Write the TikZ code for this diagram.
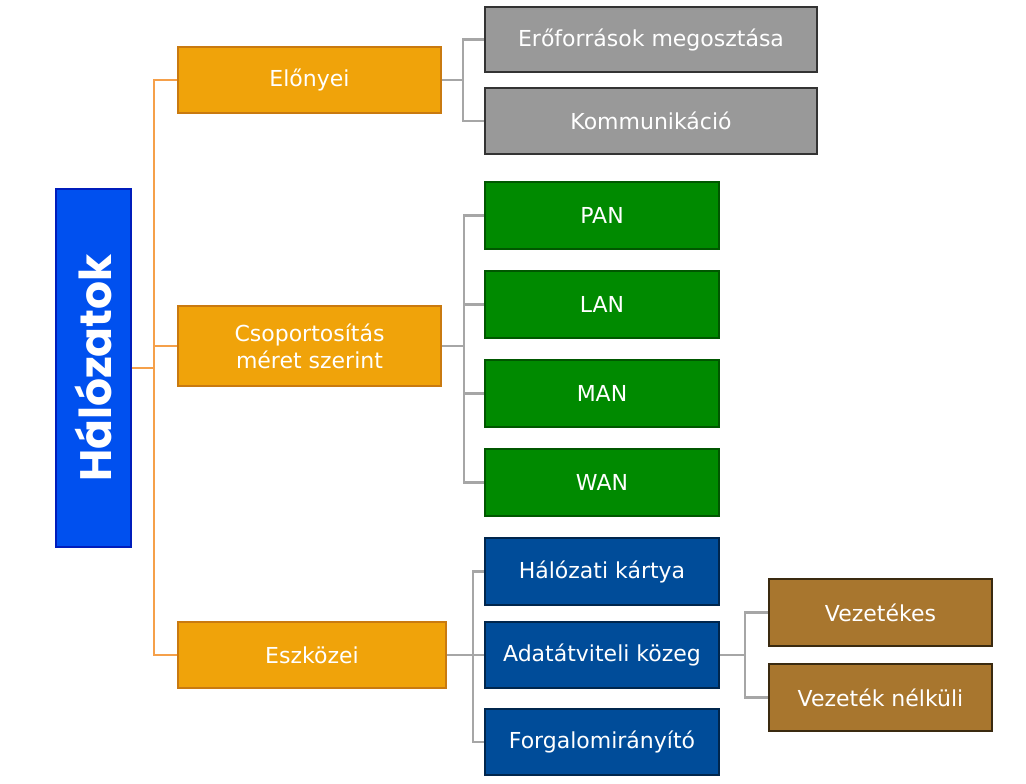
\documentclass[tikz,border=0pt]{standalone}
\usepackage{fontspec}
\setmainfont{DejaVu Sans}
\newfontfamily\rootfont{Poppins}
\definecolor{rootfill}{HTML}{0050EF}
\definecolor{rootdraw}{HTML}{001DBC}
\definecolor{orfill}{HTML}{F0A30A}
\definecolor{ordraw}{HTML}{C97A10}
\definecolor{orline}{HTML}{F5A04A}
\definecolor{grfill}{HTML}{999999}
\definecolor{grdraw}{HTML}{333333}
\definecolor{gnfill}{HTML}{008A00}
\definecolor{gndraw}{HTML}{005700}
\definecolor{dbfill}{HTML}{004C99}
\definecolor{dbdraw}{HTML}{00264D}
\definecolor{brfill}{HTML}{A8762E}
\definecolor{brdraw}{HTML}{3A2A10}
\definecolor{glines}{HTML}{A6A6A6}
\begin{document}
\begin{tikzpicture}[x=1pt,y=-1pt,
  box/.style={rectangle, inner sep=0pt, line width=1.5pt, text=white,
    font=\fontsize{22}{27}\selectfont, align=center},
  rootbox/.style={box, fill=rootfill, draw=rootdraw},
  orbox/.style={box, fill=orfill, draw=ordraw, minimum width=263pt},
  grbox/.style={box, fill=grfill, draw=grdraw, minimum width=332pt, minimum height=65pt},
  gnbox/.style={box, fill=gnfill, draw=gndraw, minimum width=234pt, minimum height=67pt},
  dbbox/.style={box, fill=dbfill, draw=dbdraw, minimum width=234pt, minimum height=66pt},
  brbox/.style={box, fill=brfill, draw=brdraw, minimum width=223pt, minimum height=67pt},
  oline/.style={draw=orline, line width=2.2pt},
  gline/.style={draw=glines, line width=2.2pt}]
\useasboundingbox (0,0) rectangle (1026,784);
% nodes
\node[rootbox, minimum width=75pt, minimum height=358pt] (root) at (93.5,368) {};
\node[text=white, rotate=90, font=\rootfont\bfseries\fontsize{44}{46}\selectfont] (roottxt) at (root.center) {Hálózatok};
\node[orbox, minimum height=66pt] (elo) at (309.5,80) {Előnyei};
\node[orbox, minimum height=80pt] (cso) at (309.5,346) {Csoportosítás\\méret szerint};
\node[orbox, minimum width=268pt, minimum height=66pt] (esz) at (312,655) {Eszközei};
\node[grbox] (g1) at (651,39.5) {Erőforrások megosztása};
\node[grbox, minimum height=66pt] (g2) at (651,121) {Kommunikáció};
\node[gnbox] (pan) at (602,215.5) {PAN};
\node[gnbox] (lan) at (602,304.5) {LAN};
\node[gnbox] (man) at (602,393.5) {MAN};
\node[gnbox] (wan) at (602,482.5) {WAN};
\node[dbbox, minimum height=67pt] (hk) at (602,571.5) {Hálózati kártya};
\node[dbbox] (ad) at (602,655) {Adatátviteli közeg};
\node[dbbox] (fo) at (602,742) {Forgalomirányító};
\node[brbox] (vez) at (880.5,612.5) {Vezetékes};
\node[brbox] (vn) at (880.5,697.5) {Vezeték nélküli};
% connectors
\draw[oline] (root.east) -- ++(22,0) |- (elo.west);
\draw[oline] (root.east) -- ++(22,0) |- (cso.west);
\draw[oline] (root.east) -- ++(22,0) |- (esz.west);
\draw[gline] (elo.east) -- ++(21,0) |- (g1.west);
\draw[gline] (elo.east) -- ++(21,0) |- (g2.west);
\draw[gline] (cso.east) -- ++(22,0) |- (pan.west);
\draw[gline] (cso.east) -- ++(22,0) |- (lan.west);
\draw[gline] (cso.east) -- ++(22,0) |- (man.west);
\draw[gline] (cso.east) -- ++(22,0) |- (wan.west);
\draw[gline] (esz.east) -- ++(26,0) |- (hk.west);
\draw[gline] (esz.east) -- ++(26,0) |- (ad.west);
\draw[gline] (esz.east) -- ++(26,0) |- (fo.west);
\draw[gline] (ad.east) -- ++(25,0) |- (vez.west);
\draw[gline] (ad.east) -- ++(25,0) |- (vn.west);
\end{tikzpicture}
\end{document}
